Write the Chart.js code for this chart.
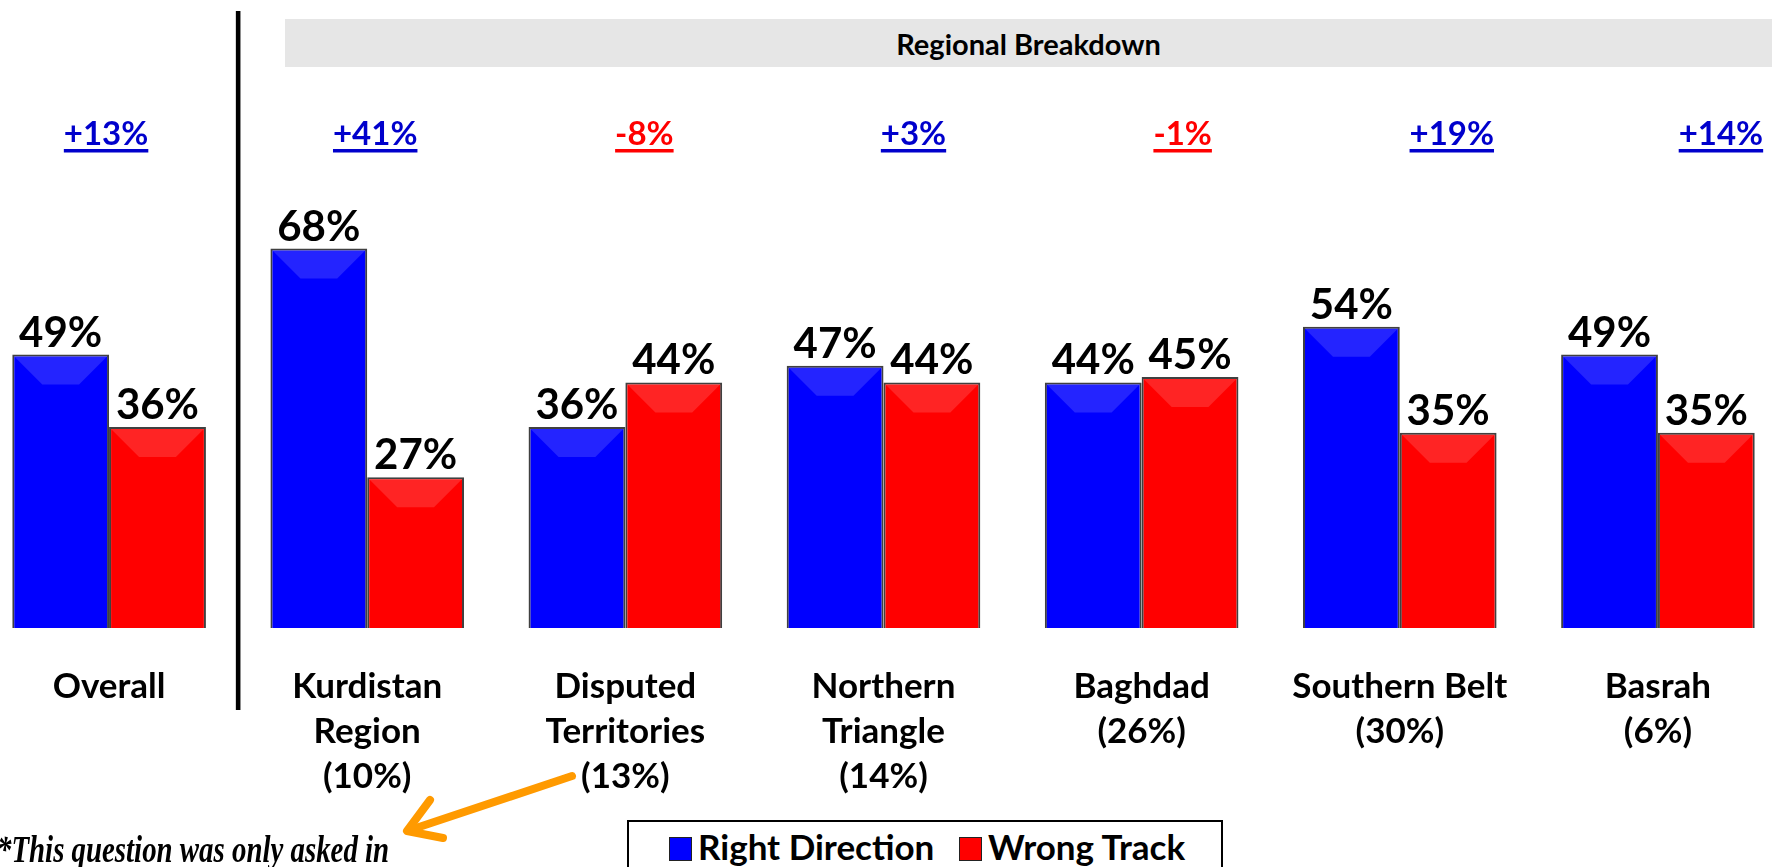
<!DOCTYPE html>
<html>
<head>
<meta charset="utf-8">
<script src="https://cdn.jsdelivr.net/npm/chart.js@4.4.1/dist/chart.umd.min.js"></script>
<style>
  html, body { margin: 0; padding: 0; width: 1772px; height: 867px; overflow: hidden; background: #fff; }
  #header {
    position: absolute; left: 285px; top: 19px; width: 1487px; height: 48px;
    background: #e6e6e6; text-align: center;
    font: bold 29px Lato, sans-serif; line-height: 50px; color: #000;
  }
  #wrap { position: absolute; left: -20px; top: 0; width: 1807px; height: 867px; }
  #legend {
    position: absolute; left: 627px; top: 820px; width: 592px; height: 70px;
    border: 2px solid #000; background: #fff;
    font: bold 35px Lato, sans-serif; color: #000;
  }
  #legend .item { position: absolute; top: 3px; white-space: nowrap; line-height: 42px; }
  #legend .sw {
    display: inline-block; width: 21px; height: 22px; vertical-align: -1px;
    border: 1.5px solid #222; margin-right: 6px;
  }
  #note {
    position: absolute; left: -3px; top: 831px; white-space: nowrap;
    font: italic bold 37px "Liberation Serif", serif; line-height: 37px;
    transform: scaleX(0.78); transform-origin: left top; color: #000;
  }
  #arrow { position: absolute; left: 0; top: 0; }
</style>
</head>
<body>
<div id="header">Regional Breakdown</div>
<div id="wrap"><canvas id="chart"></canvas></div>
<div id="legend">
  <div class="item" style="left:40px"><span class="sw" style="background:#0000ff"></span>Right Direction</div>
  <div class="item" style="left:330px"><span class="sw" style="background:#ff0000"></span>Wrong Track</div>
</div>
<div id="note">*This question was only asked in</div>
<svg id="arrow" width="1772" height="867">
  <g stroke="#ff9a00" stroke-width="8" stroke-linecap="round" stroke-linejoin="round" fill="none">
    <line x1="572" y1="776" x2="410" y2="830"/>
    <polyline points="430,800 407,831 443,838"/>
  </g>
</svg>
<script>
const categories = [
  ['Overall'],
  ['Kurdistan', 'Region', '(10%)'],
  ['Disputed', 'Territories', '(13%)'],
  ['Northern', 'Triangle', '(14%)'],
  ['Baghdad', '(26%)'],
  ['Southern Belt', '(30%)'],
  ['Basrah', '(6%)']
];
const rightDirection = [49, 68, 36, 47, 44, 54, 49];
const wrongTrack = [36, 27, 44, 44, 45, 35, 35];
const changeLabels = ['+13%', '+41%', '-8%', '+3%', '-1%', '+19%', '+14%'];

const FONT = 'Lato, sans-serif';

// value labels, change labels, divider and a bit of bevel on the bars
const annotate = {
  id: 'annotate',
  afterDatasetsDraw(chart) {
    const ctx = chart.ctx;
    const xs = chart.scales.x;

    chart.data.datasets.forEach((ds, di) => {
      chart.getDatasetMeta(di).data.forEach((bar) => {
        const w = bar.width, x0 = bar.x - w / 2, x1 = bar.x + w / 2, y0 = bar.y;
        const d = Math.min(w * 0.32, 30);
        ctx.save();
        ctx.fillStyle = 'rgba(255,255,255,0.14)';
        ctx.beginPath();
        ctx.moveTo(x0 + 2, y0 + 2);
        ctx.lineTo(x1 - 2, y0 + 2);
        ctx.lineTo(x1 - d, y0 + d);
        ctx.lineTo(x0 + d, y0 + d);
        ctx.closePath();
        ctx.fill();
        ctx.restore();
      });
    });

    ctx.save();
    ctx.fillStyle = '#000';
    ctx.textAlign = 'center';
    ctx.textBaseline = 'alphabetic';
    ctx.font = 'bold 42px ' + FONT;
    chart.data.datasets.forEach((ds, di) => {
      chart.getDatasetMeta(di).data.forEach((bar, i) => {
        ctx.fillText(ds.data[i] + '%', bar.x, bar.y - 8);
      });
    });

    ctx.font = 'bold 33px ' + FONT;
    changeLabels.forEach((t, i) => {
      const x = xs.getPixelForValue(i) + i * 11 - 3;
      const col = t.startsWith('-') ? '#ff0000' : '#0000cc';
      ctx.fillStyle = col;
      ctx.fillText(t, x, 145);
      const tw = ctx.measureText(t).width;
      ctx.fillRect(x - tw / 2, 149, tw, 3.5);
    });

    const xd = (xs.getPixelForValue(0) + xs.getPixelForValue(1)) / 2;
    ctx.fillStyle = '#000';
    ctx.fillRect(xd - 2.3, 11, 4.6, 699);
    ctx.restore();
  }
};

new Chart(document.getElementById('chart'), {
  type: 'bar',
  data: {
    labels: categories,
    datasets: [
      {
        label: 'Right Direction',
        data: rightDirection,
        backgroundColor: '#0000ff',
        borderColor: 'rgba(30,30,30,0.85)',
        borderWidth: 2
      },
      {
        label: 'Wrong Track',
        data: wrongTrack,
        backgroundColor: '#ff0000',
        borderColor: 'rgba(30,30,30,0.85)',
        borderWidth: 2
      }
    ]
  },
  options: {
    responsive: true,
    maintainAspectRatio: false,
    devicePixelRatio: 1,
    animation: false,
    layout: { padding: { top: 70, left: 0, right: 0, bottom: 0 } },
    datasets: { bar: { categoryPercentage: 0.75, barPercentage: 1 } },
    plugins: { legend: { display: false }, tooltip: { enabled: false } },
    scales: {
      x: {
        grid: { display: false, drawTicks: false },
        border: { display: false },
        ticks: {
          color: '#000',
          font: { family: FONT, weight: 'bold', size: 35, lineHeight: '45px' },
          padding: 36,
          maxRotation: 0,
          autoSkip: false
        },
        afterFit(scale) { scale.height = 239; }
      },
      y: { display: false, min: 0, max: 100 }
    }
  },
  plugins: [annotate]
});
</script>
</body>
</html>
